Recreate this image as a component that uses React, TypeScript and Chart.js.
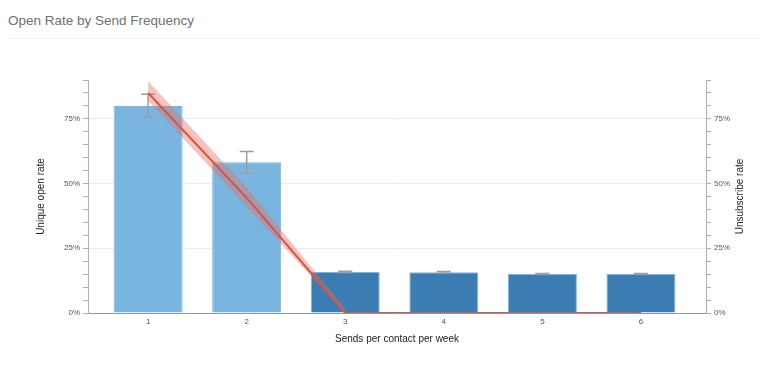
import React, { useEffect, useRef } from "react";
import { Chart, registerables } from "chart.js";

Chart.register(...registerables);

// ---- data ----
const categories = [1, 2, 3, 4, 5, 6];
const openRate = [0.8, 0.582, 0.158, 0.157, 0.151, 0.151];
const openRateHigh = [0.845, 0.624, 0.161, 0.16, 0.153, 0.153];
const openRateLow = [0.755, 0.541, 0.155, 0.154, 0.149, 0.149];
const unsubRate = [0.85, 0.445, 0, 0, 0, 0];
const bandX = [1, 2, 3];
const unsubUpper = [0.895, 0.485, 0.015];
const unsubLower = [0.82, 0.41, 0];
const yMajorTicks = [0, 0.25, 0.5, 0.75];

const TITLE = "Open Rate by Send Frequency";
const X_TITLE = "Sends per contact per week";
const Y_TITLE = "Unique open rate";
const Y2_TITLE = "Unsubscribe rate";

const FONT = "'Liberation Sans', Arial, Helvetica, sans-serif";
const LIGHT_BLUE = "#79b5df";
const DARK_BLUE = "#3b7db3";
const RED = "#d9553f";
const AXIS = "#a9b0bb";

const isMajor = (v: number) => yMajorTicks.some((m) => Math.abs(m - v) < 1e-6);

const errorBarPlugin = {
  id: "errorBars",
  afterDatasetDraw(chart: any, args: any) {
    if (args.index !== 0) return;
    const { ctx, scales } = chart;
    const x = scales.x;
    const y = scales.y;
    ctx.save();
    ctx.strokeStyle = "#9c9c9c";
    ctx.lineWidth = 1.5;
    categories.forEach((c, i) => {
      const px = x.getPixelForValue(c);
      const hi = y.getPixelForValue(openRateHigh[i]);
      const lo = y.getPixelForValue(openRateLow[i]);
      const half = 7;
      ctx.setLineDash([]);
      ctx.beginPath();
      ctx.moveTo(px, hi);
      ctx.lineTo(px, lo);
      ctx.moveTo(px - half, hi);
      ctx.lineTo(px + half, hi);
      ctx.stroke();
      ctx.setLineDash([2, 1]);
      ctx.beginPath();
      ctx.moveTo(px - half, lo);
      ctx.lineTo(px + half, lo);
      ctx.stroke();
    });
    ctx.restore();
  },
};

const rightTitlePlugin = {
  id: "rightTitle",
  afterDraw(chart: any) {
    const { ctx, chartArea } = chart;
    ctx.save();
    ctx.font = `10px ${FONT}`;
    ctx.fillStyle = "#222";
    ctx.textAlign = "center";
    ctx.textBaseline = "middle";
    ctx.translate(732, (chartArea.top + chartArea.bottom) / 2);
    ctx.rotate(-Math.PI / 2);
    ctx.fillText(Y2_TITLE, 0, 0);
    ctx.restore();
  },
};

function App() {
  const ref = useRef<HTMLCanvasElement | null>(null);

  useEffect(() => {
    if (!ref.current) return;
    const chart = new Chart(ref.current, {
      type: "bar",
      data: {
        datasets: [
          {
            type: "bar",
            data: categories.map((c, i) => ({ x: c, y: openRate[i] })),
            backgroundColor: categories.map((c) => (c <= 2 ? LIGHT_BLUE : DARK_BLUE)),
            borderColor: categories.map((c) => (c <= 2 ? LIGHT_BLUE : "#7fb6df")),
            borderWidth: 1,
            barPercentage: 0.7,
            categoryPercentage: 1,
            yAxisID: "y",
            order: 4,
          } as any,
          {
            type: "line",
            data: bandX.map((c, i) => ({ x: c, y: unsubUpper[i] })),
            borderWidth: 0,
            pointRadius: 0,
            fill: "+1",
            backgroundColor: "rgba(228, 112, 104, 0.42)",
            tension: 0,
            yAxisID: "y2",
            order: 3,
          } as any,
          {
            type: "line",
            data: bandX.map((c, i) => ({ x: c, y: unsubLower[i] })),
            borderWidth: 0,
            pointRadius: 0,
            fill: false,
            yAxisID: "y2",
            order: 2,
          } as any,
          {
            type: "line",
            data: categories.map((c, i) => ({ x: c, y: unsubRate[i] })),
            borderColor: RED,
            borderWidth: 2,
            pointRadius: 0,
            fill: false,
            tension: 0,
            yAxisID: "y2",
            order: 1,
          } as any,
        ],
      },
      options: {
        animation: false,
        responsive: false,
        layout: { padding: { top: 41, left: 0, right: 0, bottom: 0 } },
        plugins: {
          legend: { display: false },
          tooltip: { enabled: false },
        },
        scales: {
          x: {
            type: "linear",
            min: 0.39,
            max: 6.66,
            offset: false,
            grid: { display: false, drawTicks: false },
            border: { display: true, color: "#8d96a3", width: 1 },
            afterBuildTicks: (s: any) => {
              s.ticks = categories.map((v) => ({ value: v }));
            },
            afterFit: (s: any) => {
              s.height = 36;
            },
            ticks: {
              font: { family: FONT, size: 8 },
              color: "#555",
              padding: 4,
              callback: (v: any) => String(v),
            },
            title: {
              display: true,
              text: X_TITLE,
              font: { family: FONT, size: 10 },
              color: "#222",
              padding: { top: 4, bottom: 4 },
            },
          },
          y: {
            type: "linear",
            position: "left",
            min: 0,
            max: 0.9,
            ticks: {
              stepSize: 0.05,
              font: { family: FONT, size: 8 },
              color: "#555",
              padding: 3,
              autoSkip: false,
              callback: (v: any) => (isMajor(Number(v)) ? `${Math.round(Number(v) * 100)}%` : ""),
            },
            grid: {
              color: (c: any) => (c.tick && isMajor(c.tick.value) ? "#ebebeb" : "rgba(0,0,0,0)"),
              tickColor: AXIS,
              tickLength: 5,
              lineWidth: 1,
            },
            border: { display: true, color: AXIS, width: 1 },
            afterFit: (s: any) => {
              s.width = 80;
            },
            title: {
              display: true,
              text: Y_TITLE,
              font: { family: FONT, size: 10 },
              color: "#222",
              padding: { top: 27.5, bottom: 0 },
            },
          },
          y2: {
            type: "linear",
            position: "right",
            min: 0,
            max: 0.9,
            ticks: {
              stepSize: 0.05,
              font: { family: FONT, size: 8 },
              color: "#555",
              padding: 3,
              autoSkip: false,
              callback: (v: any) => (isMajor(Number(v)) ? `${Math.round(Number(v) * 100)}%` : ""),
            },
            grid: {
              drawOnChartArea: false,
              tickColor: AXIS,
              tickLength: 5,
            },
            border: { display: true, color: AXIS, width: 1 },
            afterFit: (s: any) => {
              s.width = 54;
            },
          },
        },
      } as any,
      plugins: [errorBarPlugin, rightTitlePlugin],
    });
    return () => chart.destroy();
  }, []);

  return (
    <div style={{ fontFamily: FONT }}>
      <div
        style={{
          height: 31,
          lineHeight: "26px",
          fontSize: 13.5,
          color: "#707070",
          borderBottom: "1px solid #f0f0f0",
          marginRight: -8,
          boxSizing: "border-box",
        }}
      >
        {TITLE}
      </div>
      <canvas ref={ref} width={752} height={310} style={{ display: "block" }} />
    </div>
  );
}

export default App;
